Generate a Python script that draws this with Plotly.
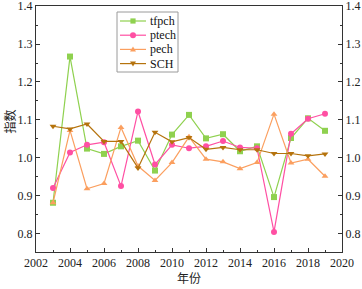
import plotly.graph_objects as go

years = list(range(2003, 2020))
tfpch = [0.881, 1.267, 1.024, 1.010, 1.030, 1.045, 0.966, 1.061, 1.113, 1.051, 1.062, 1.017, 1.030, 0.896, 1.052, 1.104, 1.071]
ptech = [0.920, 1.014, 1.034, 1.041, 0.925, 1.122, 0.982, 1.034, 1.025, 1.030, 1.044, 1.027, 1.025, 0.804, 1.063, 1.103, 1.116]
pech = [0.881, 1.072, 0.918, 0.932, 1.080, 0.978, 0.940, 0.987, 1.055, 0.996, 0.989, 0.971, 0.987, 1.115, 0.986, 0.996, 0.951]
sch = [1.083, 1.076, 1.089, 1.043, 1.043, 0.973, 1.067, 1.042, 1.053, 1.022, 1.027, 1.021, 1.021, 1.011, 1.011, 1.005, 1.010]

series = [
    ("tfpch", tfpch, "#8fd14f", "square"),
    ("ptech", ptech, "#ff4fa3", "circle"),
    ("pech", pech, "#fb9f5f", "triangle-up"),
    ("SCH", sch, "#b5730d", "triangle-down"),
]

SERIF = "Liberation Serif"
CJK = "Noto Sans CJK SC"
W, H = 362, 289
ML, MR, MT, MB = 36, 20, 6, 37
PW, PH = W - ML - MR, H - MT - MB

def px(x):
    return (x - ML) / PW

def py(y):
    return (H - MB - y) / PH

fig = go.Figure()
for name, vals, col, sym in series:
    fig.add_trace(go.Scatter(
        x=years, y=vals, name=name, mode="lines+markers",
        line=dict(color=col, width=1.2),
        marker=dict(symbol=sym, size=6, color=col),
        showlegend=False,
    ))
fig.add_trace(go.Scatter(x=[2002], y=[1.0], yaxis="y2", showlegend=False,
                         mode="markers", marker=dict(opacity=0), hoverinfo="skip"))

# custom compact legend
shapes = [dict(type="rect", xref="paper", yref="paper", x0=px(117), x1=px(178),
               y0=py(72), y1=py(12), line=dict(color="#9a9a9a", width=1),
               fillcolor="white", layer="above")]
annotations = []
paths = {
    "square": "M -2.6 -2.6 L 2.6 -2.6 L 2.6 2.6 L -2.6 2.6 Z",
    "triangle-up": "M -3 -2.2 L 3 -2.2 L 0 3 Z",
    "triangle-down": "M -3 2.2 L 3 2.2 L 0 -3 Z",
}
for i, (name, vals, col, sym) in enumerate(series):
    yy = 21 + 14.2 * i
    shapes.append(dict(type="line", xref="paper", yref="paper", x0=px(120), x1=px(146),
                       y0=py(yy), y1=py(yy), line=dict(color=col, width=1.2), layer="above"))
    if sym == "circle":
        shapes.append(dict(type="circle", xref="paper", yref="paper",
                           xsizemode="pixel", ysizemode="pixel",
                           xanchor=px(133), yanchor=py(yy),
                           x0=-3, x1=3, y0=-3, y1=3,
                           fillcolor=col, line=dict(width=0), layer="above"))
    else:
        shapes.append(dict(type="path", xref="paper", yref="paper",
                           xsizemode="pixel", ysizemode="pixel",
                           xanchor=px(133), yanchor=py(yy), path=paths[sym],
                           fillcolor=col, line=dict(width=0), layer="above"))
    annotations.append(dict(text=name, xref="paper", yref="paper", x=px(148), y=py(yy),
                            xanchor="left", yanchor="middle", showarrow=False,
                            font=dict(family=SERIF, size=12, color="#111111")))

axis_col = "#333333"
tickfont = dict(family=SERIF, size=12, color="#222222")
yrange = [0.751, 1.4005]

annotations += [
    dict(text="年份", xref="paper", yref="paper", x=0.5, y=0, yshift=-25,
         xanchor="center", yanchor="middle", showarrow=False,
         font=dict(family=CJK, size=12, color="#222222")),
    dict(text="指数", xref="paper", yref="paper", x=0, y=0.53, xshift=-26,
         xanchor="center", yanchor="middle", showarrow=False, textangle=-90,
         font=dict(family=CJK, size=12, color="#222222")),
]

fig.update_layout(
    width=W, height=H,
    margin=dict(l=ML, r=MR, t=MT, b=MB),
    paper_bgcolor="white", plot_bgcolor="white",
    showlegend=False,
    xaxis=dict(range=[2002, 2020], dtick=2, tick0=2002, ticks="inside", ticklen=4,
               tickcolor=axis_col, showline=True, linecolor=axis_col, linewidth=1,
               mirror=True, showgrid=False, zeroline=False, tickfont=tickfont, automargin=False,
               ticklabeloverflow="allow",
               minor=dict(dtick=1, ticks="inside", ticklen=2, tickcolor=axis_col)),
    yaxis=dict(range=yrange, tick0=0.8, dtick=0.1, tickformat=".1f", ticks="inside", ticklen=4,
               tickcolor=axis_col, showline=True, linecolor=axis_col, linewidth=1,
               showgrid=False, zeroline=False, tickfont=tickfont, automargin=False,
               ticklabeloverflow="allow",
               minor=dict(dtick=0.05, ticks="inside", ticklen=2, tickcolor=axis_col)),
    yaxis2=dict(range=yrange, overlaying="y", side="right", tick0=0.8, dtick=0.1, tickformat=".1f",
                ticks="inside", ticklen=4, tickcolor=axis_col, showline=True, linecolor=axis_col,
                linewidth=1, showgrid=False, zeroline=False, tickfont=tickfont, automargin=False,
                ticklabeloverflow="allow",
                minor=dict(dtick=0.05, ticks="inside", ticklen=2, tickcolor=axis_col)),
    shapes=shapes,
    annotations=annotations,
)

fig.write_html("out.html", config={"displayModeBar": False},
               post_script="document.body.style.margin='0';document.body.style.padding='0';")
